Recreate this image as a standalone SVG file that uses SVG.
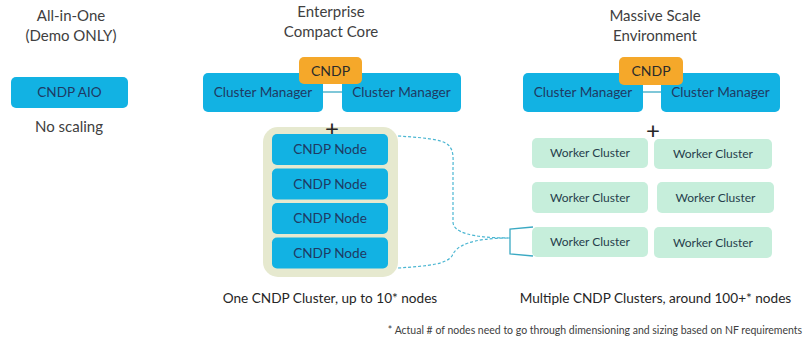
<svg xmlns="http://www.w3.org/2000/svg" width="803" height="346" viewBox="0 0 803 346">
<style>
text{font-family:Lato,"Liberation Sans",sans-serif;text-anchor:middle}
.title{font-size:15px;fill:#404040}
.cap{font-size:13.6px;fill:#262626}
.foot{font-size:10.5px;fill:#404040}
.blue{fill:#12b2e3}
.orange{fill:#f5a82a}
.green{fill:#c6eedb}
.beige{fill:#e6e9cf}
.bt{font-size:13.6px;fill:#1f3a63}
.ot{font-size:14px;fill:#2b2b2b}
.gt{font-size:12px;fill:#263e4c}
.plus{font-size:24px;fill:#262626}
.dash{fill:none;stroke:#4bb6d2;stroke-width:1.2;stroke-dasharray:3 2}
.link{fill:none;stroke:#3aa9c3;stroke-width:1.3}
</style>

<g id="titles">
<text class="title" x="71" y="21">All-in-One</text>
<text class="title" x="71" y="41">(Demo ONLY)</text>
<text class="title" x="331" y="17">Enterprise</text>
<text class="title" x="331" y="37">Compact Core</text>
<text class="title" x="655" y="21">Massive Scale</text>
<text class="title" x="655" y="41">Environment</text>
</g>

<g id="aio">
<rect class="blue" x="11" y="77" width="117" height="31" rx="5"/>
<text class="bt" x="69.5" y="97">CNDP AIO</text>
</g>
<text class="title" x="69" y="132">No scaling</text>

<g id="connectors">
<line class="link" x1="323" y1="92" x2="342" y2="92"/>
<line class="link" x1="643" y1="92" x2="661" y2="92"/>
<path class="dash" d="M398,136 C430,138 446,140 450,147 C454,152 453,160 453,170 L453,222 C453,232 470,238 510,238"/>
<path class="dash" d="M398,268 C430,266 446,264 452,256 C456,246 470,238 510,238"/>
<path class="link" d="M533,227 L510,229 L510,254 L533,256"/>
</g>

<g id="ecc-cm1">
<rect class="blue" x="203" y="73" width="120" height="39" rx="5"/>
<text class="bt" x="263" y="97">Cluster Manager</text>
</g>
<g id="ecc-cm2">
<rect class="blue" x="342" y="73" width="119" height="39" rx="5"/>
<text class="bt" x="401.5" y="97">Cluster Manager</text>
</g>
<g id="ecc-cndp">
<rect class="orange" x="299" y="57" width="63" height="27" rx="5"/>
<text class="ot" x="330.5" y="75.5">CNDP</text>
</g>

<g id="ecc-cluster">
<rect class="beige" x="263" y="127" width="135" height="150" rx="15"/>
</g>
<text class="plus" x="332" y="137">+</text>
<g id="node1">
<rect class="blue" x="272" y="134" width="116" height="31" rx="5"/>
<text class="bt" x="330" y="154">CNDP Node</text>
</g>
<g id="node2">
<rect class="blue" x="272" y="168.5" width="116" height="31" rx="5"/>
<text class="bt" x="330" y="188.5">CNDP Node</text>
</g>
<g id="node3">
<rect class="blue" x="272" y="203" width="116" height="31" rx="5"/>
<text class="bt" x="330" y="223">CNDP Node</text>
</g>
<g id="node4">
<rect class="blue" x="272" y="237.5" width="116" height="31" rx="5"/>
<text class="bt" x="330" y="257.5">CNDP Node</text>
</g>

<g id="mse-cm1">
<rect class="blue" x="523" y="73" width="120" height="39" rx="5"/>
<text class="bt" x="583" y="97">Cluster Manager</text>
</g>
<g id="mse-cm2">
<rect class="blue" x="661" y="73" width="119" height="39" rx="5"/>
<text class="bt" x="720.5" y="97">Cluster Manager</text>
</g>
<g id="mse-cndp">
<rect class="orange" x="619" y="57" width="64" height="28" rx="5"/>
<text class="ot" x="651" y="76">CNDP</text>
</g>
<text class="plus" x="653" y="139">+</text>

<g id="wc1">
<rect class="green" x="532" y="138" width="116" height="30" rx="5"/>
<text class="gt" x="590" y="157">Worker Cluster</text>
</g>
<g id="wc2">
<rect class="green" x="654" y="139" width="118" height="30" rx="5"/>
<text class="gt" x="713" y="158">Worker Cluster</text>
</g>
<g id="wc3">
<rect class="green" x="532" y="182" width="116" height="31" rx="5"/>
<text class="gt" x="590" y="201.5">Worker Cluster</text>
</g>
<g id="wc4">
<rect class="green" x="657" y="182" width="117" height="31" rx="5"/>
<text class="gt" x="715.5" y="201.5">Worker Cluster</text>
</g>
<g id="wc5">
<rect class="green" x="532" y="227" width="116" height="30" rx="5"/>
<text class="gt" x="590" y="246">Worker Cluster</text>
</g>
<g id="wc6">
<rect class="green" x="654" y="227" width="118" height="31" rx="5"/>
<text class="gt" x="713" y="246.5">Worker Cluster</text>
</g>

<g id="captions">
<text class="cap" x="330" y="303">One CNDP Cluster, up to 10* nodes</text>
<text class="cap" x="655.5" y="303">Multiple CNDP Clusters, around 100+* nodes</text>
<text class="foot" x="595" y="334">* Actual # of nodes need to go through dimensioning and sizing based on NF requirements</text>
</g>
</svg>
